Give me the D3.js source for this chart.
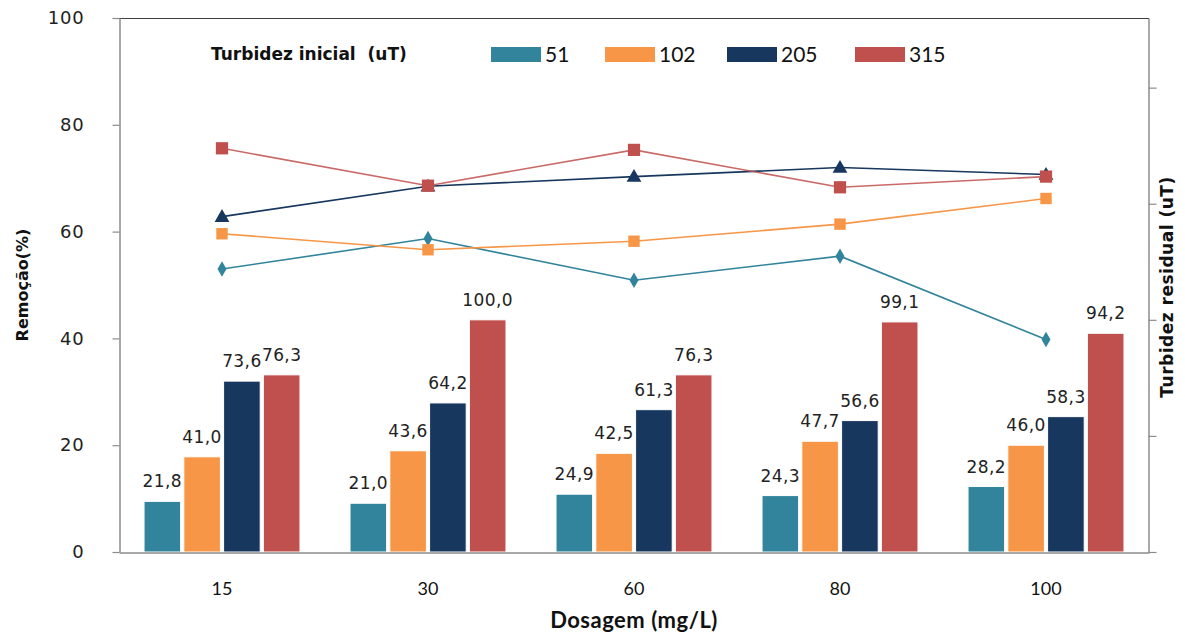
<!DOCTYPE html>
<html>
<head>
<meta charset="utf-8">
<script src="https://cdn.jsdelivr.net/npm/d3@7"></script>
<style>
  html, body { margin: 0; padding: 0; background: #fff; }
  svg { display: block; }
</style>
</head>
<body>
<svg id="chart" width="1185" height="635"></svg>
<script>
// Dosages (mg/L) on the category axis
const dosages = ["15", "30", "60", "80", "100"];
// Initial turbidity series (uT)
const seriesNames = ["51", "102", "205", "315"];
const seriesColors = ["#31849B", "#F79646", "#17375E", "#C0504D"];

// Residual turbidity (uT) — bars, right axis
const residual51  = [21.8, 21.0, 24.9, 24.3, 28.2];
const residual102 = [41.0, 43.6, 42.5, 47.7, 46.0];
const residual205 = [73.6, 64.2, 61.3, 56.6, 58.3];
const residual315 = [76.3, 100.0, 76.3, 99.1, 94.2];

// Removal (%) — lines, left axis
const removal51  = [53.0, 58.7, 50.9, 55.4, 39.8];
const removal102 = [59.6, 56.6, 58.2, 61.4, 66.2];
const removal205 = [62.8, 68.5, 70.3, 72.0, 70.7];
const removal315 = [75.6, 68.6, 75.3, 68.3, 70.3];

const leftTicks = [0, 20, 40, 60, 80, 100];
const rightTicks = [0, 50, 100, 150, 200];

const residuals = [residual51, residual102, residual205, residual315];
const removals = [removal51, removal102, removal205, removal315];
const markerTypes = [d3.symbolDiamond, d3.symbolSquare, d3.symbolTriangle, d3.symbolSquare];
const markerSizes = [70, 130, 95, 150];

const svg = d3.select("#chart");
const m = { left: 119, right: 1149, top: 18, bottom: 552 };

const x0 = d3.scaleBand().domain(dosages).range([m.left, m.right])
  .paddingInner(0.243).paddingOuter(0.1215);
const x1 = d3.scaleBand().domain(seriesNames).range([0, x0.bandwidth()])
  .paddingInner(0.08).paddingOuter(0);
const yLeft = d3.scaleLinear().domain([0, 100]).range([m.bottom, m.top]);
const yRight = d3.scaleLinear().domain([0, 230]).range([m.bottom, m.top]);

const numFmt = v => v.toFixed(1).replace(".", ",");
const titleFont = "DejaVu Sans, Tahoma, Verdana, sans-serif";

// Plot frame: top edge
svg.append("line")
  .attr("x1", m.left).attr("x2", m.right)
  .attr("y1", m.top + 0.5).attr("y2", m.top + 0.5)
  .attr("stroke", "#404040").attr("stroke-width", 1.2);

// Left axis
const gLeft = svg.append("g").attr("transform", `translate(${m.left + 0.5},0)`)
  .call(d3.axisLeft(yLeft).tickValues(leftTicks).tickSize(7).tickPadding(28).tickSizeOuter(0));
gLeft.select(".domain").attr("stroke", "#8c8c8c").attr("stroke-width", 1.5);
gLeft.selectAll(".tick line").attr("stroke", "#8c8c8c").attr("stroke-width", 1.2);
gLeft.selectAll(".tick text")
  .attr("font-family", "DejaVu Sans, Verdana, sans-serif")
  .attr("font-size", 18).attr("fill", "#222").attr("letter-spacing", 0.8);

// Right axis (ticks only)
const gRight = svg.append("g").attr("transform", `translate(${m.right - 0.5},0)`)
  .call(d3.axisRight(yRight).tickValues(rightTicks).tickSize(8).tickFormat("").tickSizeOuter(0));
gRight.select(".domain").attr("stroke", "#8c8c8c").attr("stroke-width", 1.5);
gRight.selectAll(".tick line").attr("stroke", "#8c8c8c").attr("stroke-width", 1.2);

// Bars
const groups = svg.append("g").selectAll("g")
  .data(dosages).join("g")
  .attr("transform", d => `translate(${x0(d)},0)`);

seriesNames.forEach((s, si) => {
  groups.append("rect")
    .attr("x", x1(s))
    .attr("width", x1.bandwidth())
    .attr("y", (d, i) => yRight(residuals[si][i]))
    .attr("height", (d, i) => yRight(0) - yRight(residuals[si][i]))
    .attr("fill", seriesColors[si])
    .attr("stroke", "#ffffff").attr("stroke-width", 1);
  groups.append("text")
    .attr("x", x1(s) + x1.bandwidth() / 2)
    .attr("y", (d, i) => yRight(residuals[si][i]) - 14)
    .attr("text-anchor", "middle")
    .attr("font-family", "DejaVu Sans, Verdana, sans-serif")
    .attr("font-size", 17).attr("letter-spacing", 0.4)
    .attr("fill", "#222")
    .text((d, i) => numFmt(residuals[si][i]));
});

// Bottom axis
const gBottom = svg.append("g").attr("transform", `translate(0,${m.bottom + 0.5})`)
  .call(d3.axisBottom(x0).tickSize(0).tickPadding(30));
gBottom.select(".domain").attr("stroke", "#8c8c8c").attr("stroke-width", 1.5);
gBottom.selectAll(".tick text")
  .attr("font-family", "Lato, Calibri, sans-serif")
  .attr("font-size", 18).attr("fill", "#111");

// Removal lines with markers
const cx = d => x0(d) + x0.bandwidth() / 2;
seriesNames.forEach((s, si) => {
  const pts = dosages.map((d, i) => [cx(d), yLeft(removals[si][i])]);
  svg.append("path")
    .attr("d", d3.line()(pts))
    .attr("fill", "none")
    .attr("stroke", seriesColors[si])
    .attr("stroke-width", 1.6)
    .attr("stroke-opacity", si === 3 ? 0.85 : 1);
  svg.append("g").selectAll("path")
    .data(pts).join("path")
    .attr("transform", p => `translate(${p[0]},${p[1] + (si === 2 ? 1 : 0)})`)
    .attr("d", d3.symbol().type(markerTypes[si]).size(markerSizes[si]))
    .attr("fill", seriesColors[si]);
});

// Axis titles
svg.append("text")
  .attr("x", cx("60")).attr("y", 628)
  .attr("text-anchor", "middle")
  .attr("font-family", "Lato, Calibri, sans-serif").attr("font-weight", "bold")
  .attr("font-size", 22).attr("letter-spacing", 0.5).attr("fill", "#111")
  .text("Dosagem (mg/L)");

svg.append("text")
  .attr("transform", `translate(28,${(m.top + m.bottom) / 2}) rotate(-90)`)
  .attr("text-anchor", "middle")
  .attr("font-family", titleFont).attr("font-weight", "bold")
  .attr("font-size", 16).attr("fill", "#111")
  .text("Remoção(%)");

svg.append("text")
  .attr("transform", `translate(1173,${(m.top + m.bottom) / 2 + 2}) rotate(-90)`)
  .attr("text-anchor", "middle")
  .attr("font-family", titleFont).attr("font-weight", "bold")
  .attr("font-size", 17).attr("letter-spacing", 0.5).attr("fill", "#111")
  .text("Turbidez residual (uT)");

// Legend
const legend = svg.append("g");
legend.append("text")
  .attr("x", 211).attr("y", 60)
  .attr("font-family", titleFont).attr("font-weight", "bold")
  .attr("font-size", 17).attr("fill", "#111")
  .attr("xml:space", "preserve")
  .text("Turbidez inicial\u00a0\u00a0(uT)");
const legendX = [491, 605, 727, 855];
seriesNames.forEach((s, si) => {
  legend.append("rect")
    .attr("x", legendX[si]).attr("y", 47)
    .attr("width", 50).attr("height", 15)
    .attr("fill", seriesColors[si]);
  legend.append("text")
    .attr("x", legendX[si] + 54).attr("y", 62)
    .attr("font-family", "Lato, Calibri, sans-serif")
    .attr("font-size", 21).attr("fill", "#111")
    .text(s);
});
</script>
</body>
</html>
